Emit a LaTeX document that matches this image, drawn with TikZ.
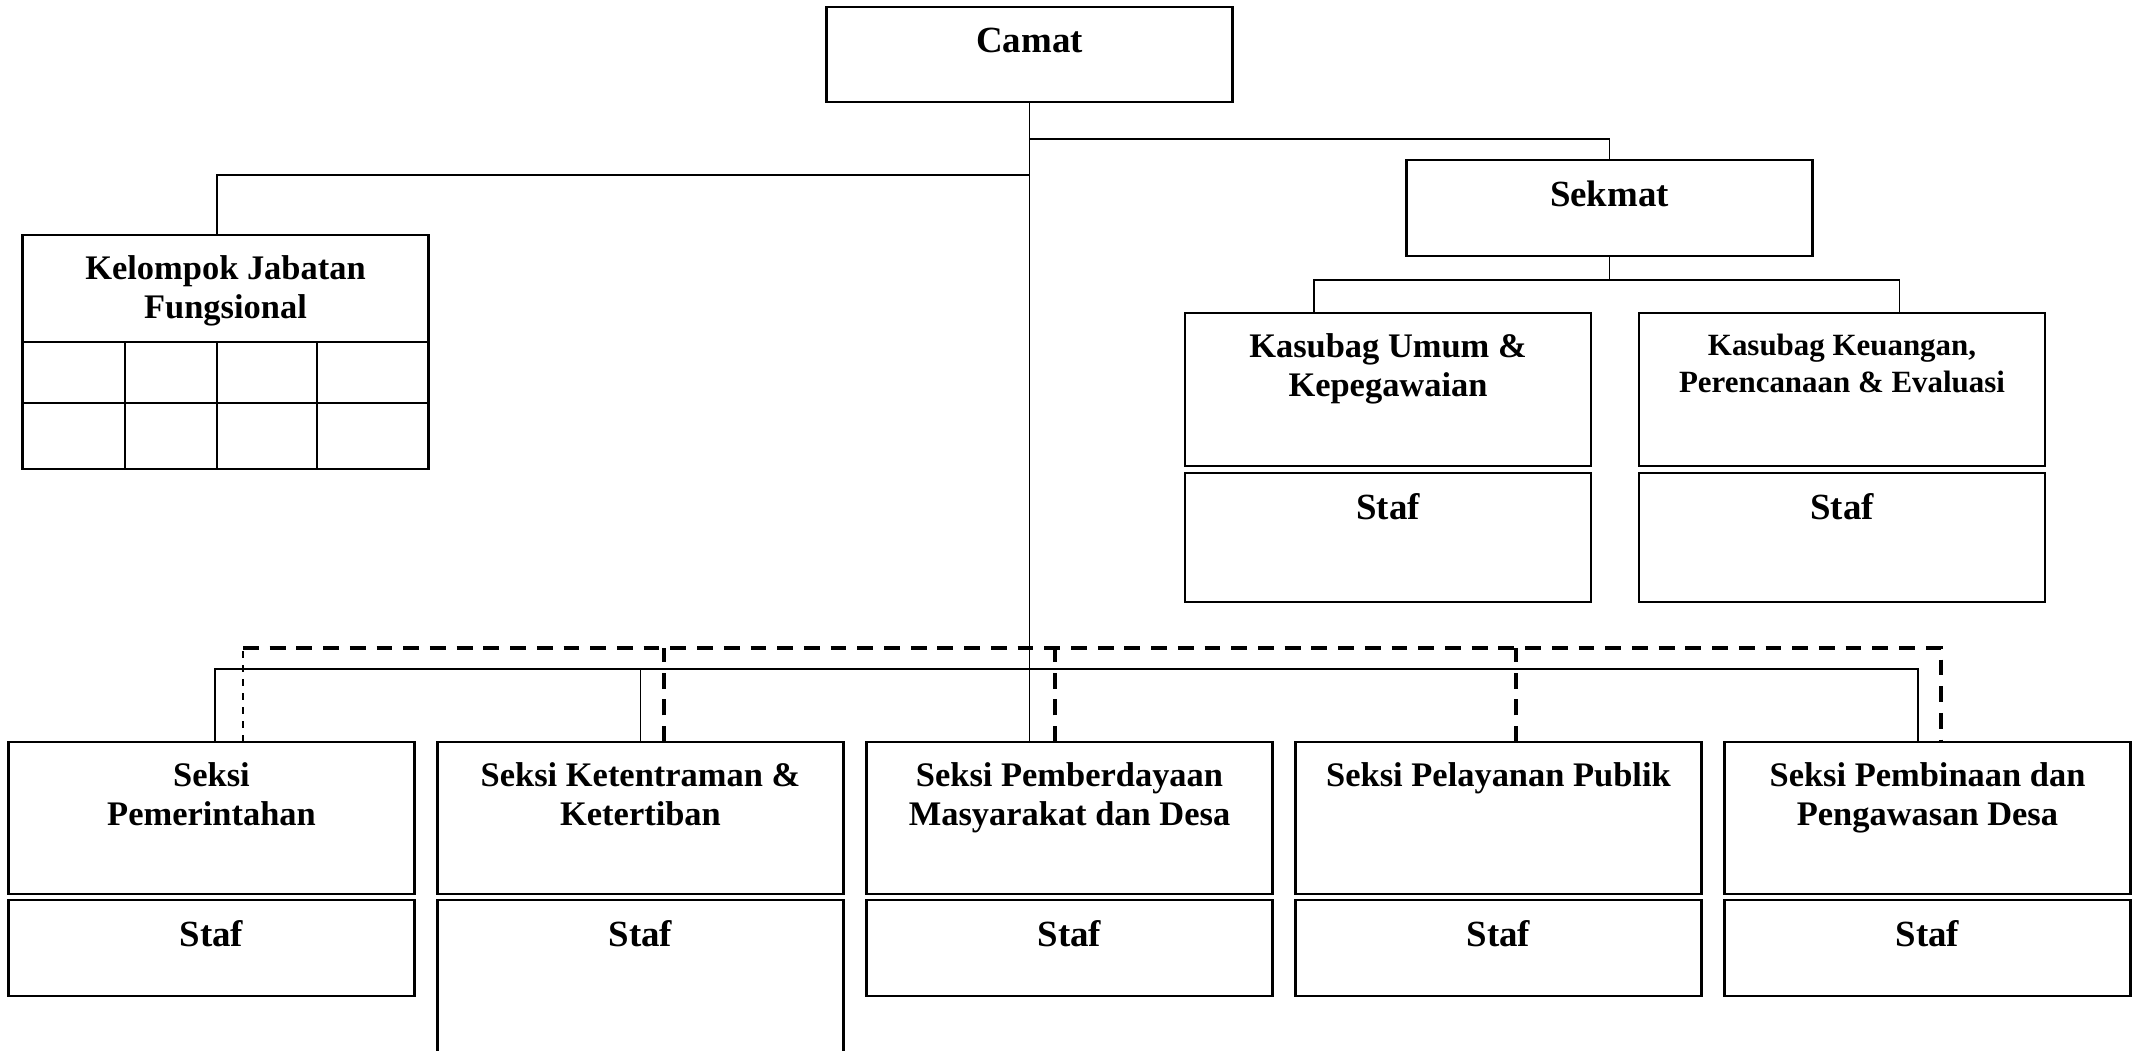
\documentclass[tikz,border=0pt]{standalone}
\usepackage{fontspec}
\setmainfont{Liberation Serif}
\usetikzlibrary{positioning, calc}

\begin{document}
\begin{tikzpicture}[
        orgbox/.style={
            rectangle,
            draw=black,
            line width=0.6pt,
            minimum width=4.06cm,
            inner sep=0pt,
            outer sep=0pt
        },
        boxtext/.style={
            anchor=north,
            inner sep=0pt,
            align=center,
            yshift=-0.2cm,
            font=\fontsize{9.8}{11.2}\selectfont\bfseries
        },
        headtext/.style={boxtext, font=\fontsize{10.5}{12}\selectfont\bfseries},
        smalltext/.style={boxtext, font=\fontsize{8.8}{10.5}\selectfont\bfseries},
        link/.style={line width=0.5pt},
        gridline/.style={line width=0.6pt},
        koordline/.style={line width=1pt, dash pattern=on 4.5pt off 3.1pt},
        koordthin/.style={line width=0.45pt, dash pattern=on 2pt off 2pt}
    ]

    \useasboundingbox (0,0) rectangle (21.41,-10.51);

    % Camat
    \node[orgbox, minimum height=0.95cm] (camat) at (10.295,-0.545) {};
    \node[headtext] (camattext) at (camat.north) {Camat};

    % Sekmat
    \node[orgbox, minimum height=0.96cm] (sekmat) at (16.095,-2.08) {};
    \node[headtext] (sekmattext) at (sekmat.north) {Sekmat};

    % Kasubag boxes with their staff
    \node[orgbox, minimum height=1.53cm] (umum) at (13.88,-3.895) {};
    \node[boxtext] (umumtext) at (umum.north) {Kasubag Umum \&\\Kepegawaian};
    \node[orgbox, minimum height=1.29cm, below=0.07cm of umum] (umumstaf) {};
    \node[headtext] (umumstaftext) at (umumstaf.north) {Staf};

    \node[orgbox, minimum height=1.53cm, right=0.48cm of umum] (keuangan) {};
    \node[smalltext] (keuangantext) at (keuangan.north) {Kasubag Keuangan,\\Perencanaan \& Evaluasi};
    \node[orgbox, minimum height=1.29cm, below=0.07cm of keuangan] (keuanganstaf) {};
    \node[headtext] (keuanganstaftext) at (keuanganstaf.north) {Staf};

    % Kelompok Jabatan Fungsional
    \node[orgbox, minimum height=2.34cm] (kelompok) at (2.255,-3.52) {};
    \node[boxtext] (kelompoktext) at (kelompok.north) {Kelompok Jabatan\\Fungsional};
    \draw[gridline] (kelompok.west |- 0,-3.42) -- (kelompok.east |- 0,-3.42);
    \draw[gridline] (kelompok.west |- 0,-4.03) -- (kelompok.east |- 0,-4.03);
    \draw[gridline] (1.25,-3.42) -- (1.25,0 |- kelompok.south);
    \draw[gridline] (2.17,-3.42) -- (2.17,0 |- kelompok.south);
    \draw[gridline] (3.17,-3.42) -- (3.17,0 |- kelompok.south);

    % Seksi row
    \node[orgbox, minimum height=1.52cm] (pemerintahan) at (2.115,-8.18) {};
    \node[boxtext] (pemerintahantext) at (pemerintahan.north) {Seksi\\Pemerintahan};
    \node[orgbox, minimum height=1.52cm, right=0.23cm of pemerintahan] (ketentraman) {};
    \node[boxtext] (ketentramantext) at (ketentraman.north) {Seksi Ketentraman \&\\Ketertiban};
    \node[orgbox, minimum height=1.52cm, right=0.23cm of ketentraman] (pemberdayaan) {};
    \node[boxtext] (pemberdayaantext) at (pemberdayaan.north) {Seksi Pemberdayaan\\Masyarakat dan Desa};
    \node[orgbox, minimum height=1.52cm, right=0.23cm of pemberdayaan] (pelayanan) {};
    \node[boxtext] (pelayanantext) at (pelayanan.north) {Seksi Pelayanan Publik};
    \node[orgbox, minimum height=1.52cm, right=0.23cm of pelayanan] (pembinaan) {};
    \node[boxtext] (pembinaantext) at (pembinaan.north) {Seksi Pembinaan dan\\Pengawasan Desa};

    % Staff under each Seksi
    \node[orgbox, minimum height=0.96cm, below=0.06cm of pemerintahan] (pemerintahanstaf) {};
    \node[headtext] (pemerintahanstaftext) at (pemerintahanstaf.north) {Staf};
    \node[orgbox, minimum height=1.70cm, below=0.06cm of ketentraman] (ketentramanstaf) {};
    \node[headtext] (ketentramanstaftext) at (ketentramanstaf.north) {Staf};
    \node[orgbox, minimum height=0.96cm, below=0.06cm of pemberdayaan] (pemberdayaanstaf) {};
    \node[headtext] (pemberdayaanstaftext) at (pemberdayaanstaf.north) {Staf};
    \node[orgbox, minimum height=0.96cm, below=0.06cm of pelayanan] (pelayananstaf) {};
    \node[headtext] (pelayananstaftext) at (pelayananstaf.north) {Staf};
    \node[orgbox, minimum height=0.96cm, below=0.06cm of pembinaan] (pembinaanstaf) {};
    \node[headtext] (pembinaanstaftext) at (pembinaanstaf.north) {Staf};

    % Lines of command
    \draw[link] (camat.south) -- (camat.south |- pemberdayaan.north);
    \draw[link] ($(camat.south)+(0,-0.37)$) -| (sekmat.north);
    \draw[link] ($(camat.south)+(0,-0.73)$) -| ([xshift=-0.085cm]kelompok.north);
    \draw[link] (sekmat.south) -- ++(0,-0.24) coordinate (kasubagbus);
    \draw[link] ([xshift=-0.74cm]umum.north) |- (kasubagbus) -| ([xshift=0.575cm]keuangan.north);
    \coordinate (seksibus) at (camat.south |- 0,-6.69);
    \draw[link] ([xshift=0.035cm]pemerintahan.north) |- (seksibus) -| ([xshift=-0.095cm]pembinaan.north);
    \draw[link] (ketentraman.north) -- (ketentraman.north |- seksibus);

    % Lines of coordination
    \draw[koordthin] ([xshift=0.315cm]pemerintahan.north) -- ++(0,0.94) coordinate (koordbus);
    \draw[koordline] (koordbus) -| ([xshift=0.135cm]pembinaan.north);
    \draw[koordline] ([xshift=0.235cm]ketentraman.north) -- ++(0,0.94);
    \draw[koordline] ([xshift=-0.145cm]pemberdayaan.north) -- ++(0,0.94);
    \draw[koordline] ([xshift=0.175cm]pelayanan.north) -- ++(0,0.94);

\end{tikzpicture}
\end{document}
